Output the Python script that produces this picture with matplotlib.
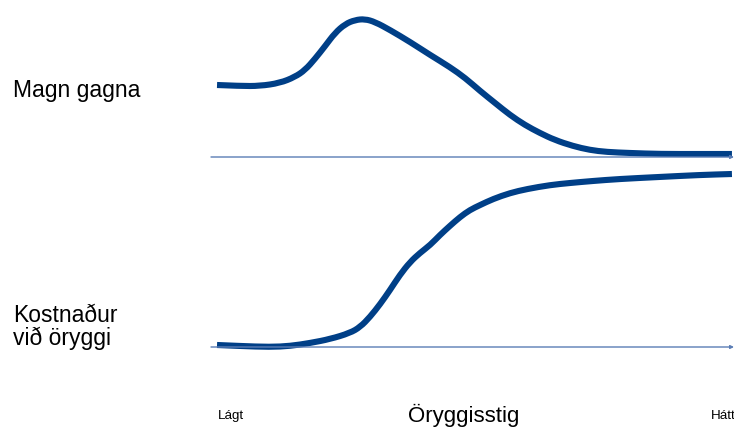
import matplotlib
matplotlib.use("Agg")
import matplotlib.pyplot as plt
from matplotlib.path import Path
from matplotlib.patches import PathPatch

# Security level (0 = low, 100 = high)
benefit_x = [0.0, 4.5, 8.3, 12.2, 15.1, 17.1, 19.0, 21.0, 22.9, 24.9, 26.8, 28.7, 30.7, 33.6,
             37.5, 41.4, 45.2, 48.2, 51.1, 54.0, 56.9, 59.8, 62.7, 65.6, 69.1, 72.4, 75.7,
             80.2, 86.0, 93.8, 100.0]
benefit_y = [72, 71, 71, 74, 80, 87, 98, 111, 124, 133, 137, 138, 135, 127,
             115, 102, 90, 79, 66, 54, 42, 32, 24, 17, 11, 7, 5,
             4, 3, 3, 3]

cost_x = [0.0, 4.5, 10.3, 14.2, 18.1, 22.0, 25.8, 27.8, 29.7, 31.7, 33.6, 35.5, 37.5, 39.4,
          41.4, 43.3, 45.2, 47.2, 49.1, 51.1, 53.6, 56.9, 60.2, 64.7, 68.5, 72.9, 78.1,
          85.8, 93.6, 100.0]
cost_y = [2, 1, 0, 1, 4, 8, 14, 20, 30, 43, 57, 72, 85, 94,
          102, 112, 121, 130, 137, 142, 148, 154, 158, 162, 164, 166, 168,
          170, 172, 173]

label_top = "Magn gagna"
label_bottom = ["Kostnaður", "við öryggi"]
x_title = "Öryggisstig"
x_low = "Lágt"
x_high = "Hátt"

W, H = 734, 428
line_color = "#003f87"
axis_color = "#5b7db5"

plt.rcParams['font.family'] = ['Liberation Sans', 'DejaVu Sans']
fig = plt.figure(figsize=(W / 100, H / 100), dpi=100)

xl = (-1.17, 100.4)


def make_ax(top_px, base_px):
    ax = fig.add_axes([211 / W, (H - base_px) / H, 523 / W, (base_px - top_px) / H])
    ax.set_xlim(*xl)
    ax.set_ylim(0, base_px - top_px)
    ax.axis('off')
    ax.annotate('', xy=(1, 0), xytext=(0, 0), xycoords='axes fraction',
                arrowprops=dict(arrowstyle='-|>', color=axis_color, lw=1.0,
                                mutation_scale=5, shrinkA=0, shrinkB=0))
    return ax


def smooth_curve(ax, xs, ys):
    # quadratic Bezier through midpoints, read points used as control points
    pts = list(zip(xs, ys))
    verts = [pts[0]]
    codes = [Path.MOVETO]
    for i in range(1, len(pts) - 1):
        mid = ((pts[i][0] + pts[i + 1][0]) / 2, (pts[i][1] + pts[i + 1][1]) / 2)
        verts += [pts[i], mid]
        codes += [Path.CURVE3, Path.CURVE3]
    verts.append(pts[-1])
    codes.append(Path.LINETO)
    patch = PathPatch(Path(verts, codes), fill=False, edgecolor=line_color, lw=4.4,
                      capstyle='butt', joinstyle='round', clip_on=False)
    ax.add_patch(patch)


ax1 = make_ax(0, 157)
smooth_curve(ax1, benefit_x, benefit_y)

ax2 = make_ax(160, 347)
smooth_curve(ax2, cost_x, cost_y)

fig.text(13 / W, 1 - 97 / H, label_top, fontsize=16.5, va='baseline', ha='left')
fig.text(13 / W, 1 - 322 / H, label_bottom[0], fontsize=16.5, va='baseline', ha='left')
fig.text(13 / W, 1 - 345 / H, label_bottom[1], fontsize=16.5, va='baseline', ha='left')
fig.text(464 / W, 1 - 422 / H, x_title, fontsize=16, va='baseline', ha='center')
fig.text(218 / W, 1 - 419 / H, x_low, fontsize=9.6, va='baseline', ha='left')
fig.text(711 / W, 1 - 419 / H, x_high, fontsize=9.6, va='baseline', ha='left')

fig.savefig("out.png", dpi=100)
